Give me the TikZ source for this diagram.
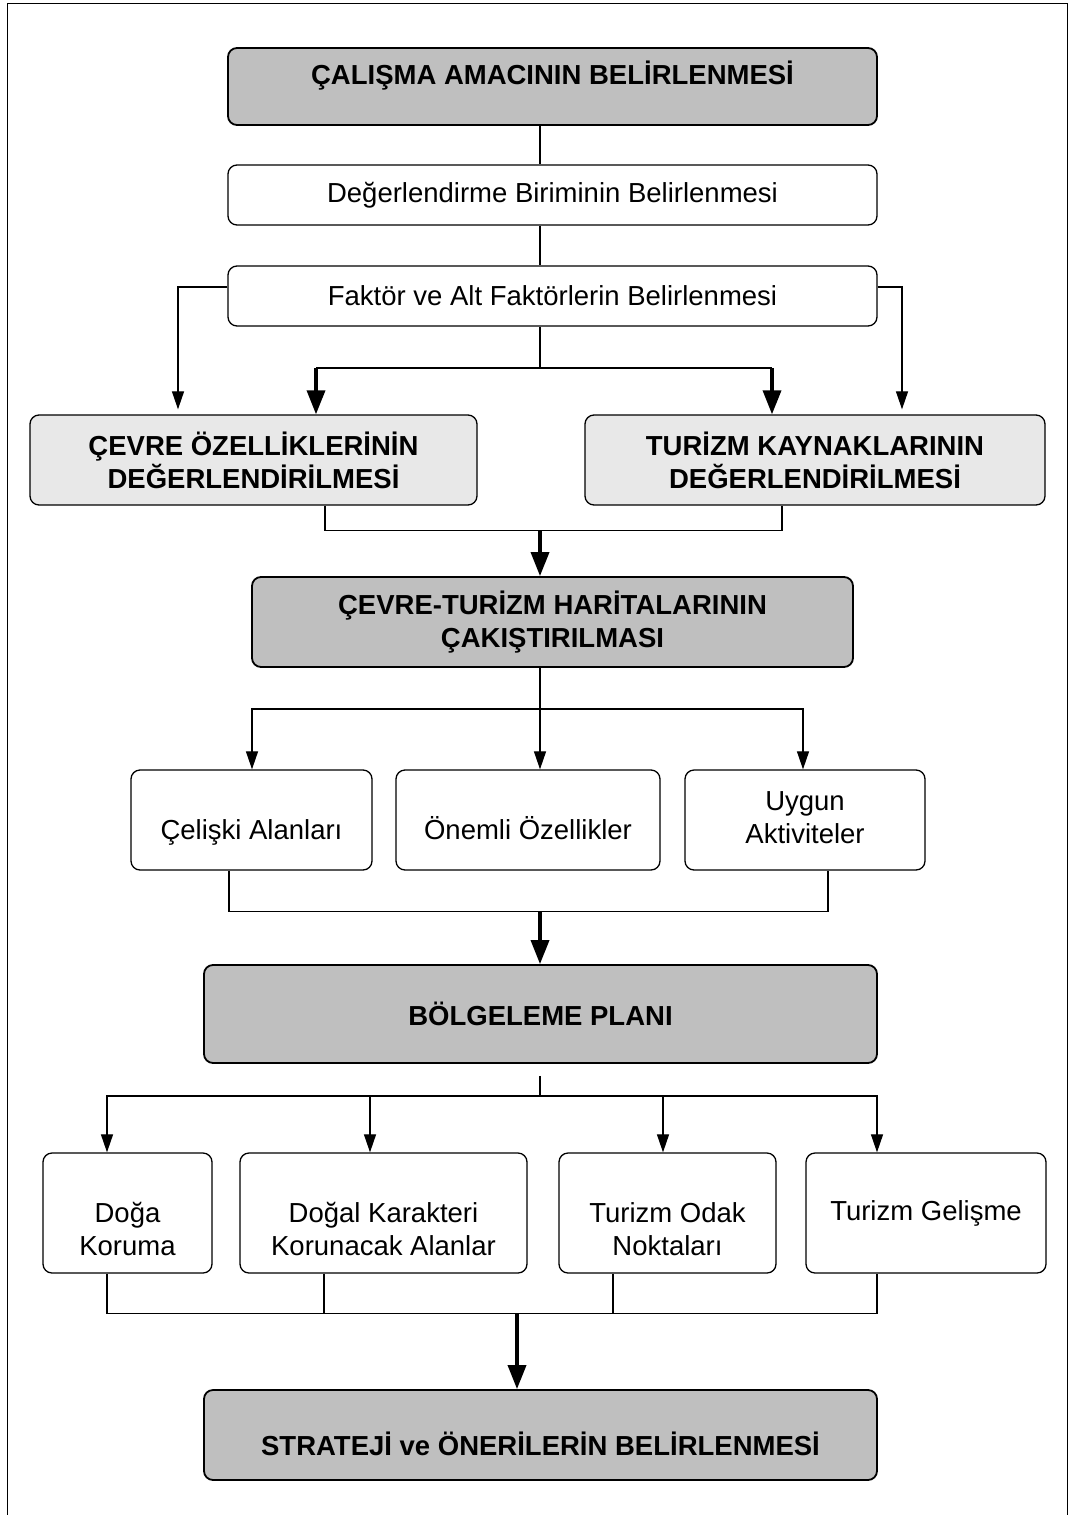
\documentclass[tikz,border=0pt]{standalone}
\usepackage{fontspec}
\setmainfont{Liberation Sans}
\usetikzlibrary{arrows.meta, positioning}

\newcommand{\hdfont}{\fontsize{27.5}{33}\selectfont\bfseries}
\newcommand{\txfont}{\fontsize{27.5}{33}\selectfont}
\newcommand{\tallstrut}{\rule{0pt}{58pt}}
\newcommand{\deepstrut}{\rule[-7pt]{0pt}{7pt}}

\begin{document}
\begin{tikzpicture}[
		x=1pt, y=-1pt,
		box/.style={draw, rounded corners=9pt, line width=1.3pt, align=center, inner sep=0pt},
		darkbox/.style={box, fill=black!25, line width=1.8pt, font=\hdfont},
		lightbox/.style={box, fill=black!9, font=\hdfont},
		plainbox/.style={box, fill=white, font=\txfont},
		link/.style={line width=1.2pt},
		flow/.style={line width=1.2pt, -{Triangle[length=18pt, width=12pt]}},
		bigflow/.style={line width=3.5pt, -{Triangle[length=24pt, width=18pt]}}
		]
		\useasboundingbox (0,0) rectangle (1070,1515);
		\draw[line width=1pt] (7,1515) -- (7,3) -- (1067,3) -- (1067,1515);
		
		\coordinate (spine) at (540,0);
		
		% Amac, birim, faktorler
		\node[darkbox, minimum width=649pt, minimum height=77pt, text height=16pt, text depth=20pt] (amac) at (552.5,86.5) {ÇALIŞMA AMACININ BELİRLENMESİ};
		\node[plainbox, minimum width=649pt, minimum height=60pt] (birim) at (552.5,195) {Değerlendirme Biriminin Belirlenmesi};
		\node[plainbox, minimum width=649pt, minimum height=60pt] (faktor) at (552.5,296) {Faktör ve Alt Faktörlerin Belirlenmesi};
		
		\draw[link] (amac.south -| spine) -- (birim.north -| spine);
		\draw[link] (birim.south -| spine) -- (faktor.north -| spine);
		
		% Cevre / turizm degerlendirmesi
		\node[lightbox, minimum width=447pt, minimum height=90pt] (cevre) at (253.5,460) {ÇEVRE ÖZELLİKLERİNİN\\DEĞERLENDİRİLMESİ};
		\node[lightbox, minimum width=460pt, minimum height=90pt] (turizm) at (815,460) {TURİZM KAYNAKLARININ\\DEĞERLENDİRİLMESİ};
		
		\coordinate (j1) at (540,368);
		\coordinate (k1) at (316,368);
		\coordinate (k2) at (772,368);
		\draw[flow] ([yshift=9pt]faktor.west) -| ([xshift=-75.5pt, yshift=5pt]cevre.north);
		\draw[flow] ([yshift=9pt]faktor.east) -| ([xshift=87pt, yshift=5pt]turizm.north);
		\draw[link] (faktor.south -| spine) -- (j1);
		\draw[line width=2.5pt] (k1) -- (k2);
		\draw[bigflow] (k1) -- (cevre.north -| k1);
		\draw[bigflow] (k2) -- (turizm.north -| k2);
		
		% Cakistirma
		\node[darkbox, minimum width=601pt, minimum height=90pt] (cakis) at (552.5,622) {ÇEVRE-TURİZM HARİTALARININ\\ÇAKIŞTIRILMASI};
		
		\coordinate (j2) at (540,530);
		\draw[link] ([xshift=71.5pt]cevre.south) -- ++(0,25) -| ([xshift=-33pt]turizm.south);
		\draw[bigflow] (j2) -- (cakis.north -| spine);
		
		% Sonuc alanlari
		\node[plainbox, minimum width=241pt, minimum height=100pt, text height=46pt, text depth=7pt] (celiski) at (251.5,820) {Çelişki Alanları};
		\node[plainbox, minimum width=264pt, minimum height=100pt, text height=46pt, text depth=7pt] (onemli) at (528,820) {Önemli Özellikler};
		\node[plainbox, minimum width=240pt, minimum height=100pt] (uygun) at (805,820) {\rule{0pt}{20pt}Uygun\\Aktiviteler\deepstrut};
		
		\coordinate (j3) at (540,709);
		\draw[link] (cakis.south -| spine) -- (j3);
		\draw[flow] (j3) -| ([xshift=0.5pt]celiski.north);
		\draw[flow] (j3) -- (onemli.north -| spine);
		\draw[flow] (j3) -| ([xshift=-2pt]uygun.north);
		
		% Bolgeleme plani
		\node[darkbox, minimum width=673pt, minimum height=98pt] (plan) at (540.5,1014) {BÖLGELEME PLANI};
		
		\coordinate (j4) at (540,911);
		\draw[link] ([xshift=-22.5pt]celiski.south) -- ++(0,41) -| ([xshift=23pt]uygun.south);
		\draw[bigflow] (j4) -- (plan.north -| spine);
		
		% Bolgeler
		\node[plainbox, minimum width=169pt, minimum height=120pt] (doga) at (127.5,1213) {\tallstrut Doğa\\Koruma\deepstrut};
		\node[plainbox, minimum width=287pt, minimum height=120pt] (karakter) at (383.5,1213) {\tallstrut Doğal Karakteri\\Korunacak Alanlar\deepstrut};
		\node[plainbox, minimum width=217pt, minimum height=120pt] (odak) at (667.5,1213) {\tallstrut Turizm Odak\\Noktaları\deepstrut};
		\node[plainbox, minimum width=240pt, minimum height=120pt] (gelisme) at (926,1213) {Turizm Gelişme};
		
		\coordinate (j5) at (540,1096);
		\draw[link] (plan.south -| spine) ++(0,12) -- (j5);
		\draw[flow] (j5) -| ([xshift=-20.5pt]doga.north);
		\draw[flow] (j5) -| ([xshift=-13.5pt]karakter.north);
		\draw[flow] (j5) -| ([xshift=-4.5pt]odak.north);
		\draw[flow] (j5) -| ([xshift=-49pt]gelisme.north);
		
		% Strateji
		\node[darkbox, minimum width=673pt, minimum height=90pt, text height=40pt, text depth=0pt] (strateji) at (540.5,1435) {STRATEJİ ve ÖNERİLERİN BELİRLENMESİ};
		
		\coordinate (j6) at (517,1313);
		\draw[link] ([xshift=-20.5pt]doga.south) -- ++(0,40) -| ([xshift=-49pt]gelisme.south);
		\draw[link] ([xshift=-59.5pt]karakter.south) -- ++(0,40);
		\draw[link] ([xshift=-54.5pt]odak.south) -- ++(0,40);
		\draw[bigflow] (j6) -- (strateji.north -| j6);
	\end{tikzpicture}
\end{document}
